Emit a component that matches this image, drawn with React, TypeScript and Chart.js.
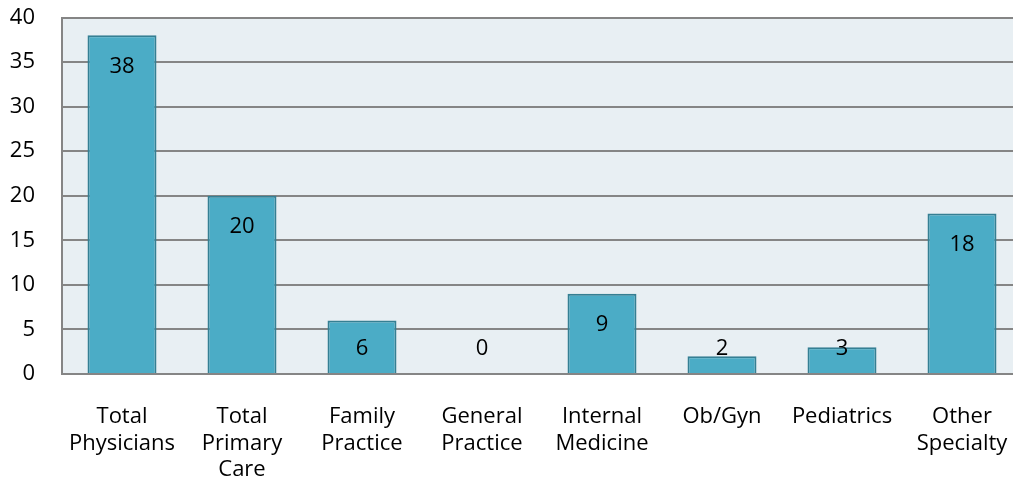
import React, { useEffect, useRef } from "react";
import { Chart, registerables } from "chart.js";

Chart.register(...registerables);

const categories: string[][] = [
  ["Total", "Physicians"],
  ["Total", "Primary", "Care"],
  ["Family", "Practice"],
  ["General", "Practice"],
  ["Internal", "Medicine"],
  ["Ob/Gyn"],
  ["Pediatrics"],
  ["Other", "Specialty"],
];
const values: number[] = [38, 20, 6, 0, 9, 2, 3, 18];
const yMin = 0;
const yMax = 40;
const yStep = 5;

const FONT = "'Open Sans', 'DejaVu Sans', sans-serif";

const bgPlugin = {
  id: "plotBg",
  beforeDraw(chart: any) {
    const { ctx, chartArea } = chart;
    ctx.save();
    ctx.fillStyle = "#E8EFF3";
    ctx.fillRect(chartArea.left, chartArea.top, chartArea.right - chartArea.left, chartArea.bottom - chartArea.top);
    ctx.restore();
  },
};

const labelPlugin = {
  id: "valueLabels",
  afterDatasetsDraw(chart: any) {
    const { ctx } = chart;
    const meta = chart.getDatasetMeta(0);
    const base = chart.scales.y.getPixelForValue(0);
    ctx.save();
    ctx.font = `22px ${FONT}`;
    ctx.fillStyle = "#000";
    ctx.textAlign = "center";
    ctx.textBaseline = "middle";
    meta.data.forEach((bar: any, i: number) => {
      const y = Math.min(bar.y + 31, base - 25);
      ctx.fillText(String(values[i]), bar.x, y);
    });
    ctx.restore();
  },
};

export default function App() {
  const ref = useRef<HTMLCanvasElement>(null);
  useEffect(() => {
    if (!ref.current) return;
    const chart = new Chart(ref.current, {
      type: "bar",
      data: {
        labels: categories,
        datasets: [
          {
            data: values,
            backgroundColor: "#4BACC6",
            borderColor: "#357F93",
            borderWidth: 2,
            barPercentage: 0.575,
            categoryPercentage: 1,
          },
        ],
      },
      options: {
        animation: false,
        responsive: false,
        layout: { padding: { top: 9.5, right: 6, left: 0, bottom: 0 } },
        plugins: { legend: { display: false }, tooltip: { enabled: false } },
        scales: {
          x: {
            grid: { display: false, drawTicks: false },
            border: { display: true, color: "#858585", width: 2 },
            ticks: {
              font: { family: FONT, size: 22, lineHeight: 1.2 },
              color: "#000",
              padding: 30,
              maxRotation: 0,
              autoSkip: false,
            },
            afterFit(scale: any) {
              scale.height = 111;
              scale.paddingLeft = 0;
              scale.paddingRight = 0;
            },
          },
          y: {
            min: yMin,
            max: yMax,
            grid: { color: "#858585", lineWidth: 2, drawTicks: false },
            border: { display: true, color: "#858585", width: 2 },
            ticks: {
              stepSize: yStep,
              font: { family: FONT, size: 22, lineHeight: 1.2 },
              color: "#000",
              padding: 27,
            },
            afterFit(scale: any) {
              scale.width = 54;
              scale.paddingTop = 0;
              scale.paddingBottom = 0;
            },
          },
        },
      },
      plugins: [bgPlugin, labelPlugin],
    });
    return () => chart.destroy();
  }, []);
  return (
    <div
      style={{
        position: "fixed",
        left: 0,
        top: 0,
        width: "100vw",
        height: "100vh",
        overflow: "hidden",
        background: "#fff",
      }}
    >
      <canvas
        ref={ref}
        width={1020}
        height={477}
        style={{ display: "block", position: "absolute", left: 8, top: 8 }}
      />
    </div>
  );
}
